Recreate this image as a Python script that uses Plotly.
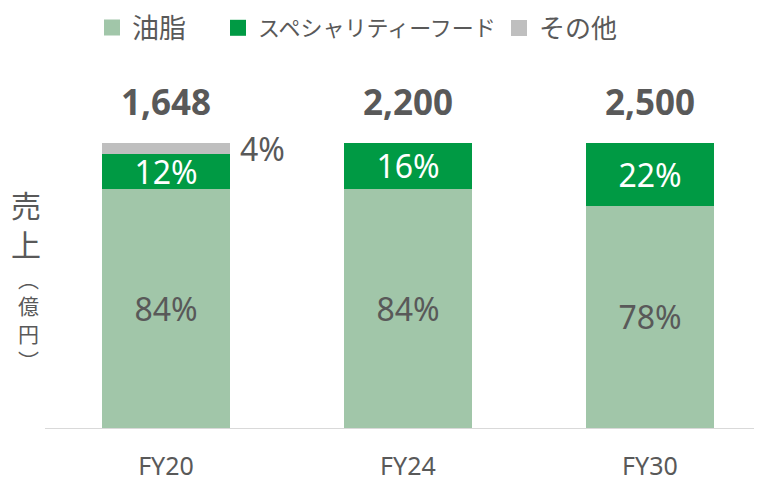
import plotly.graph_objects as go

categories = ["FY20", "FY24", "FY30"]
oil_pct = [84, 84, 78]
specialty_pct = [12, 16, 22]
other_pct = [4, 0, 0]
totals = ["1,648", "2,200", "2,500"]
series_names = ["油脂", "スペシャリティーフード", "その他"]

C_OIL = "#A1C6A9"
C_SPEC = "#009A44"
C_OTHER = "#BFBFBF"
C_TEXT = "#595959"
FONT = "Noto Sans, Noto Sans CJK JP, sans-serif"
JFONT = "Noto Sans CJK JP, sans-serif"

W, H = 762, 482
ML, MR, MT, MB = 37, 0, 52, 62
PW, PH = W - ML - MR, H - MT - MB
OFF = 8  # page body offset


def paper_xy(sx, sy):
    fx, fy = sx - OFF, sy - OFF
    return (fx - ML) / PW, (H - MB - fy) / PH


fig = go.Figure()
common = dict(width=0.525, marker_line_width=0, showlegend=False,
              constraintext="none", textangle=0, insidetextanchor="middle")
fig.add_bar(x=categories, y=oil_pct, name=series_names[0], marker_color=C_OIL,
            text=[f"{v}%" for v in oil_pct], textposition="inside",
            textfont=dict(color=C_TEXT, size=32, family=FONT), **common)
fig.add_bar(x=categories, y=specialty_pct, name=series_names[1], marker_color=C_SPEC,
            text=[f"{v}%" for v in specialty_pct], textposition="inside",
            textfont=dict(color="white", size=32, family=FONT), **common)
fig.add_bar(x=categories, y=other_pct, name=series_names[2], marker_color=C_OTHER,
            textposition="none", **common)

# legend entries (square markers), one legend per item
legend_ids = ["legend", "legend2", "legend3"]
colors = [C_OIL, C_SPEC, C_OTHER]
for name, col, lid in zip(series_names, colors, legend_ids):
    fig.add_scatter(x=[None], y=[None], mode="markers", name=name, legend=lid,
                    marker=dict(symbol="square", size=16, color=col),
                    showlegend=True, hoverinfo="skip")

# outside label for small "other" segment
for i, v in enumerate(other_pct):
    if v > 0:
        fig.add_annotation(x=i, y=oil_pct[i] + specialty_pct[i] + v / 2, xref="x", yref="y",
                           text=f"{v}%", showarrow=False, xshift=97, yshift=0,
                           font=dict(size=32, color=C_TEXT, family=FONT))

# totals
for i, t in enumerate(totals):
    tot = oil_pct[i] + specialty_pct[i] + other_pct[i]
    fig.add_annotation(x=i, y=tot, xref="x", yref="y", text=f"<b>{t}</b>",
                       showarrow=False, yshift=42,
                       font=dict(size=35, color=C_TEXT, family=FONT))

# y-axis title (vertical)
px, py = paper_xy(26, 223)
fig.add_annotation(xref="paper", yref="paper", x=px, y=py, xanchor="center", yanchor="middle",
                   text="売<br>上", showarrow=False,
                   font=dict(size=30, color=C_TEXT, family=JFONT))
px, py = paper_xy(28, 319)
fig.add_annotation(xref="paper", yref="paper", x=px, y=py, xanchor="center", yanchor="middle",
                   text="︵<br>億<br>円<br>︶", showarrow=False,
                   font=dict(size=21, color=C_TEXT, family=JFONT))

legend_common = dict(orientation="h", xref="container", yref="container",
                     xanchor="left", yanchor="middle", itemwidth=30,
                     bgcolor="rgba(0,0,0,0)", borderwidth=0)
ly = 1 - (28 - OFF) / H
fig.update_layout(
    barmode="stack",
    width=W, height=H,
    margin=dict(l=ML, r=MR, t=MT, b=MB),
    paper_bgcolor="white", plot_bgcolor="white",
    font=dict(family=FONT, color=C_TEXT),
    legend=dict(x=(112 - 20 - OFF) / W, y=ly, font=dict(size=27, color=C_TEXT, family=JFONT),
                **legend_common),
    legend2=dict(x=(238 - 20 - OFF) / W, y=ly, font=dict(size=22, color=C_TEXT, family=JFONT),
                 **legend_common),
    legend3=dict(x=(519 - 20 - OFF) / W, y=ly, font=dict(size=26, color=C_TEXT, family=JFONT),
                 **legend_common),
    xaxis=dict(range=[-0.5, 2.496], showline=True, linecolor="#D9D9D9", linewidth=1,
               ticks="", ticklabelstandoff=16,
               tickfont=dict(size=25, color=C_TEXT, family=FONT), showgrid=False,
               zeroline=False),
    yaxis=dict(range=[0, PH / 285 * 100], visible=False, showgrid=False),
)

fig.write_html("out.html")
